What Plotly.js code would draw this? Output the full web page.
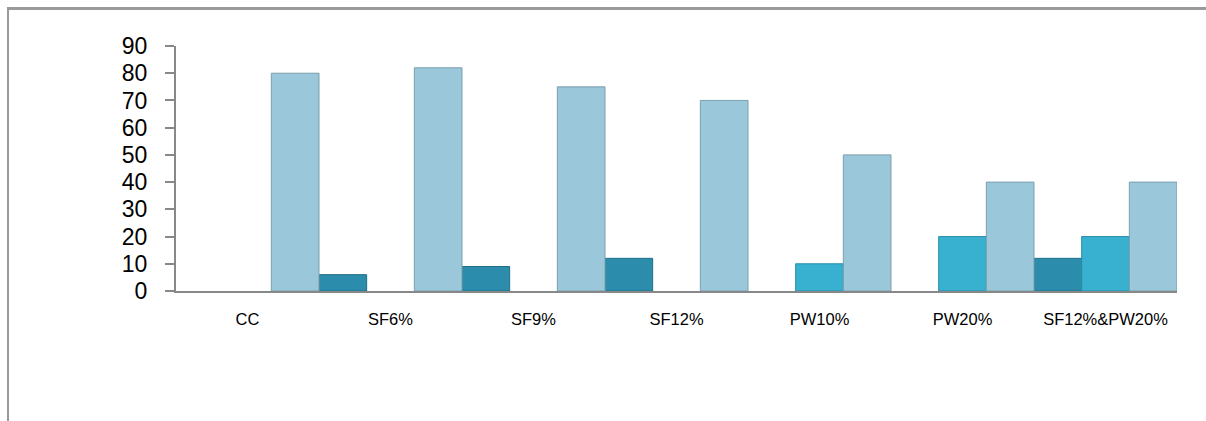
<!DOCTYPE html>
<html>
<head>
<meta charset="utf-8">
<script src="https://cdn.plot.ly/plotly-3.0.1.min.js"></script>
<style>
  html, body { margin: 0; padding: 0; background: #ffffff; }
  #frame { position: absolute; left: 7px; top: 7px; width: 1199px; height: 414px;
           border-top: 3px solid #9a9a9a; border-left: 2px solid #9a9a9a; box-sizing: border-box; }
  #chart { position: absolute; left: 0; top: 0; width: 1206px; height: 421px; }
</style>
</head>
<body>
<div id="frame"></div>
<div id="chart"></div>
<script>
// Categories (x axis)
const categories = ['CC', 'SF6%', 'SF9%', 'SF12%', 'PW10%', 'PW20%', 'SF12%&PW20%'];
// Series values (null = no bar)
const seriesA = [null, 6, 9, 12, null, null, 12];      // dark teal
const seriesB = [null, null, null, null, 10, 20, 20];  // cyan
const seriesC = [80, 82, 75, 70, 50, 40, 40];          // light blue
// Y tick values
const yTicks = [0, 10, 20, 30, 40, 50, 60, 70, 80, 90];

const traces = [
  { type: 'bar', x: categories, y: seriesA, name: 'A',
    marker: { color: '#2b8dab', line: { color: '#1f6f87', width: 1 } } },
  { type: 'bar', x: categories, y: seriesB, name: 'B',
    marker: { color: '#37b1cf', line: { color: '#2a8ea8', width: 1 } } },
  { type: 'bar', x: categories, y: seriesC, name: 'C',
    marker: { color: '#9ac7d9', line: { color: '#7b9fae', width: 1 } } }
];

const layout = {
  width: 1206, height: 421,
  margin: { l: 176, r: 29, t: 46, b: 130, pad: 0 },
  paper_bgcolor: 'rgba(0,0,0,0)',
  plot_bgcolor: 'rgba(0,0,0,0)',
  barmode: 'group',
  bargap: 0,
  bargroupgap: 0,
  showlegend: false,
  hovermode: false,
  xaxis: {
    type: 'category',
    range: [-0.5, 6.5],
    showline: true, linecolor: '#888888', linewidth: 2,
    showgrid: false, zeroline: false,
    ticks: '',
    ticklabelstandoff: 12,
    tickfont: { family: '"Liberation Sans Narrow", "Liberation Sans", Arial, sans-serif', size: 16.5, color: '#000000' }
  },
  yaxis: {
    range: [0, 90],
    tickvals: yTicks,
    ticktext: yTicks.map(String),
    showline: true, linecolor: '#888888', linewidth: 2,
    showgrid: false, zeroline: false,
    ticks: 'outside', ticklen: 9, tickwidth: 2, tickcolor: '#888888',
    ticklabelstandoff: 13,
    tickfont: { family: '"Liberation Sans", Arial, sans-serif', size: 23, color: '#000000' }
  }
};

Plotly.newPlot('chart', traces, layout, { displayModeBar: false, staticPlot: true });
</script>
</body>
</html>
